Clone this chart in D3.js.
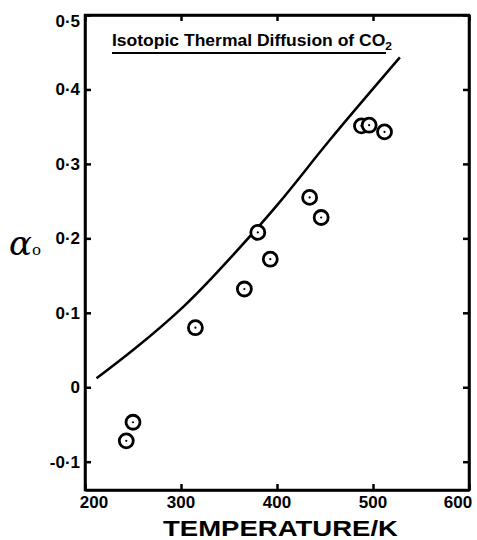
<!DOCTYPE html>
<html>
<head>
<meta charset="utf-8">
<script src="https://cdn.jsdelivr.net/npm/d3@7"></script>
<style>
  html, body { margin: 0; padding: 0; background: #fff; }
  text { font-family: "Liberation Sans", Arial, sans-serif; font-weight: bold; fill: #000; }
</style>
</head>
<body>
<div id="chart"></div>
<script>
// measured points (temperature K, alpha0)
const tempK = [243, 250, 315, 366, 380, 393, 434, 446, 488, 496, 512];
const alpha = [-0.072, -0.047, 0.080, 0.132, 0.208, 0.172, 0.255, 0.228, 0.351, 0.352, 0.343];

// theory curve
const curveT = [212, 252, 304, 351, 403, 455, 528];
const curveA = [0.012, 0.052, 0.110, 0.173, 0.249, 0.332, 0.443];

const xTicks = [200, 300, 400, 500, 600];
const yTicks = [0.5, 0.4, 0.3, 0.2, 0.1, 0, -0.1];
const yTickLabels = ['0·5', '0·4', '0·3', '0·2', '0·1', '0', '-0·1'];

const W = 477, H = 540;
const L = 85, R = 469, T = 15, B = 490;

const svg = d3.select('#chart').append('svg')
  .attr('width', W).attr('height', H);

const x = d3.scaleLinear().domain([200, 600]).range([L, R]);
const y = d3.scaleLinear().domain([-0.138, 0.5]).range([B, T]);

// frame + inward ticks
const tick = 6;
svg.append('g').attr('transform', `translate(0,${B})`)
  .call(d3.axisBottom(x).tickValues(xTicks).tickSizeInner(-tick).tickSizeOuter(0).tickFormat(''));
svg.append('g').attr('transform', `translate(0,${T})`)
  .call(d3.axisTop(x).tickValues(xTicks).tickSizeInner(-tick).tickSizeOuter(0).tickFormat(''));
svg.append('g').attr('transform', `translate(${L},0)`)
  .call(d3.axisLeft(y).tickValues(yTicks).tickSizeInner(-tick).tickSizeOuter(0).tickFormat(''));
svg.append('g').attr('transform', `translate(${R},0)`)
  .call(d3.axisRight(y).tickValues(yTicks).tickSizeInner(-tick).tickSizeOuter(0).tickFormat(''));
svg.selectAll('.domain, .tick line').attr('stroke', '#000').attr('stroke-width', 2.5);
svg.append('rect').attr('x', L).attr('y', T).attr('width', R - L).attr('height', B - T)
  .attr('fill', 'none').attr('stroke', '#000').attr('stroke-width', 2.5);

// tick labels
svg.append('g').selectAll('text').data(xTicks).join('text')
  .attr('x', d => x(d) + (d === 200 ? 9 : d === 600 ? -11 : 0))
  .attr('y', 508)
  .attr('text-anchor', 'middle')
  .attr('font-size', 17)
  .text(d => d);

svg.append('g').selectAll('text').data(yTicks).join('text')
  .attr('x', 80)
  .attr('y', d => y(d) + 6 + (d === 0.5 ? 6 : 0))
  .attr('text-anchor', 'end')
  .attr('font-size', 17)
  .text((d, i) => yTickLabels[i]);

// axis titles
svg.append('text')
  .attr('x', 163).attr('y', 536)
  .attr('font-size', 22)
  .attr('textLength', 235).attr('lengthAdjust', 'spacingAndGlyphs')
  .text('TEMPERATURE/K');

const ylab = svg.append('text')
  .attr('x', 9).attr('y', 255)
  .style('font-family', '"DejaVu Serif", serif')
  .style('font-style', 'italic')
  .style('font-weight', 'normal')
  .attr('font-size', 34);
ylab.append('tspan').text('α');
ylab.append('tspan').attr('font-size', 15).style('font-style', 'normal').text('o');

// title
const title = svg.append('text')
  .attr('x', 112).attr('y', 46)
  .attr('font-size', 16)
  .attr('textLength', 280).attr('lengthAdjust', 'spacingAndGlyphs');
title.append('tspan').text('Isotopic Thermal Diffusion of  CO');
title.append('tspan').attr('font-size', 11).attr('dy', 4).text('2');
svg.append('line')
  .attr('x1', 112).attr('x2', 386).attr('y1', 53).attr('y2', 53)
  .attr('stroke', '#000').attr('stroke-width', 2);

// curve
const curvePts = curveT.map((t, i) => [t, curveA[i]]);
svg.append('path')
  .datum(curvePts)
  .attr('fill', 'none').attr('stroke', '#000').attr('stroke-width', 2.5)
  .attr('d', d3.line().x(d => x(d[0])).y(d => y(d[1])).curve(d3.curveNatural));

// data points
const pts = tempK.map((t, i) => [t, alpha[i]]);
const g = svg.append('g').selectAll('g').data(pts).join('g')
  .attr('transform', d => `translate(${x(d[0])},${y(d[1])})`);
g.append('circle').attr('r', 7).attr('fill', '#fff').attr('stroke', '#000').attr('stroke-width', 2.8);
g.append('circle').attr('r', 1.1).attr('fill', '#000');
</script>
</body>
</html>
